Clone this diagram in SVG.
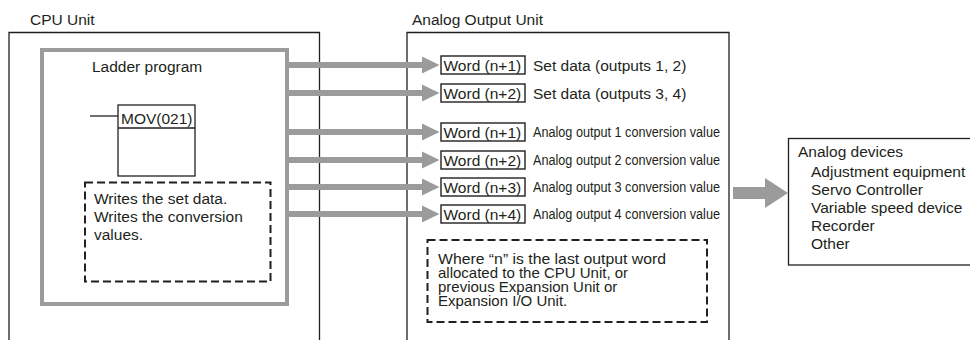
<svg xmlns="http://www.w3.org/2000/svg" width="970" height="340" viewBox="0 0 970 340">
<style>
text{font-family:"Liberation Sans",Arial,sans-serif;font-size:15.5px;fill:#231f20}
.unit{fill:#fff;stroke:#231f20;stroke-width:1.3}
.gray{fill:none;stroke:#9b9b9b;stroke-width:4}
.shaft{stroke:#9b9b9b;stroke-width:6;fill:none}
.head{fill:#9b9b9b}
.word{fill:#fff;stroke:#231f20;stroke-width:1.4}
.dash{fill:none;stroke:#231f20;stroke-width:2;stroke-dasharray:8 4}
.thin{fill:none;stroke:#231f20;stroke-width:1.3}
.cond{font-size:14px}
.note{font-size:15px}
</style>
<g id="cpu-unit">
<text x="30" y="25">CPU Unit</text>
<path class="unit" d="M9 345 V32.5 H319.5 V345"/>
</g>
<g id="analog-output-unit">
<text x="412" y="25">Analog Output Unit</text>
<path class="unit" d="M407 345 V32.5 H729 V345"/>
</g>
<g id="ladder-program">
<rect class="gray" x="42" y="50" width="245" height="254"/>
<text x="92" y="72">Ladder program</text>
</g>
<g id="mov">
<line class="thin" x1="90" y1="116" x2="118" y2="116"/>
<rect class="thin" x="118" y="105" width="77" height="71"/>
<line class="thin" x1="118" y1="128" x2="195" y2="128"/>
<text x="121" y="124">MOV(021)</text>
</g>
<g id="writes-note">
<rect class="dash" x="85" y="182.5" width="185.5" height="99"/>
<text x="94" y="204">Writes the set data.</text>
<text x="94" y="222">Writes the conversion</text>
<text x="94" y="240">values.</text>
</g>
<g id="connectors">
<line class="shaft" x1="287" y1="65" x2="423" y2="65"/>
<polygon class="head" points="422,56.5 439.5,65 422,73.5"/>
<line class="shaft" x1="287" y1="93" x2="423" y2="93"/>
<polygon class="head" points="422,84.5 439.5,93 422,101.5"/>
<line class="shaft" x1="287" y1="132" x2="423" y2="132"/>
<polygon class="head" points="422,123.5 439.5,132 422,140.5"/>
<line class="shaft" x1="287" y1="160" x2="423" y2="160"/>
<polygon class="head" points="422,151.5 439.5,160 422,168.5"/>
<line class="shaft" x1="287" y1="187" x2="423" y2="187"/>
<polygon class="head" points="422,178.5 439.5,187 422,195.5"/>
<line class="shaft" x1="287" y1="214" x2="423" y2="214"/>
<polygon class="head" points="422,205.5 439.5,214 422,222.5"/>
<polygon class="head" points="733,187 765,187 765,178 788,193 765,208 765,199 733,199"/>
</g>
<g id="word-1">
<rect class="word" x="441" y="56" width="84" height="18"/>
<text x="443.5" y="70.5">Word (n+1)</text>
<text x="533" y="70.5">Set data (outputs 1, 2)</text>
</g>
<g id="word-2">
<rect class="word" x="441" y="84" width="84" height="18"/>
<text x="443.5" y="98.5">Word (n+2)</text>
<text x="533" y="98.5">Set data (outputs 3, 4)</text>
</g>
<g id="conv-1">
<rect class="word" x="441" y="123" width="84" height="18"/>
<text x="443.5" y="137.5">Word (n+1)</text>
<text class="cond" x="533" y="137" textLength="187" lengthAdjust="spacingAndGlyphs">Analog output 1 conversion value</text>
</g>
<g id="conv-2">
<rect class="word" x="441" y="151" width="84" height="18"/>
<text x="443.5" y="165.5">Word (n+2)</text>
<text class="cond" x="533" y="165" textLength="187" lengthAdjust="spacingAndGlyphs">Analog output 2 conversion value</text>
</g>
<g id="conv-3">
<rect class="word" x="441" y="178" width="84" height="18"/>
<text x="443.5" y="192.5">Word (n+3)</text>
<text class="cond" x="533" y="192" textLength="187" lengthAdjust="spacingAndGlyphs">Analog output 3 conversion value</text>
</g>
<g id="conv-4">
<rect class="word" x="441" y="205" width="84" height="18"/>
<text x="443.5" y="219.5">Word (n+4)</text>
<text class="cond" x="533" y="219" textLength="187" lengthAdjust="spacingAndGlyphs">Analog output 4 conversion value</text>
</g>
<g id="where-note">
<rect class="dash" x="427.5" y="240" width="279.5" height="82"/>
<text class="note" x="438" y="264" textLength="228" lengthAdjust="spacingAndGlyphs">Where “n” is the last output word</text>
<text class="note" x="438" y="278">allocated to the CPU Unit, or</text>
<text class="note" x="438" y="292">previous Expansion Unit or</text>
<text class="note" x="438" y="306">Expansion I/O Unit.</text>
</g>
<g id="analog-devices">
<rect class="unit" x="788.5" y="138.5" width="190" height="126.5"/>
<text x="798" y="157">Analog devices</text>
<text x="811" y="177">Adjustment equipment</text>
<text x="811" y="195">Servo Controller</text>
<text x="811" y="213">Variable speed device</text>
<text x="811" y="231">Recorder</text>
<text x="811" y="249">Other</text>
</g>
</svg>
